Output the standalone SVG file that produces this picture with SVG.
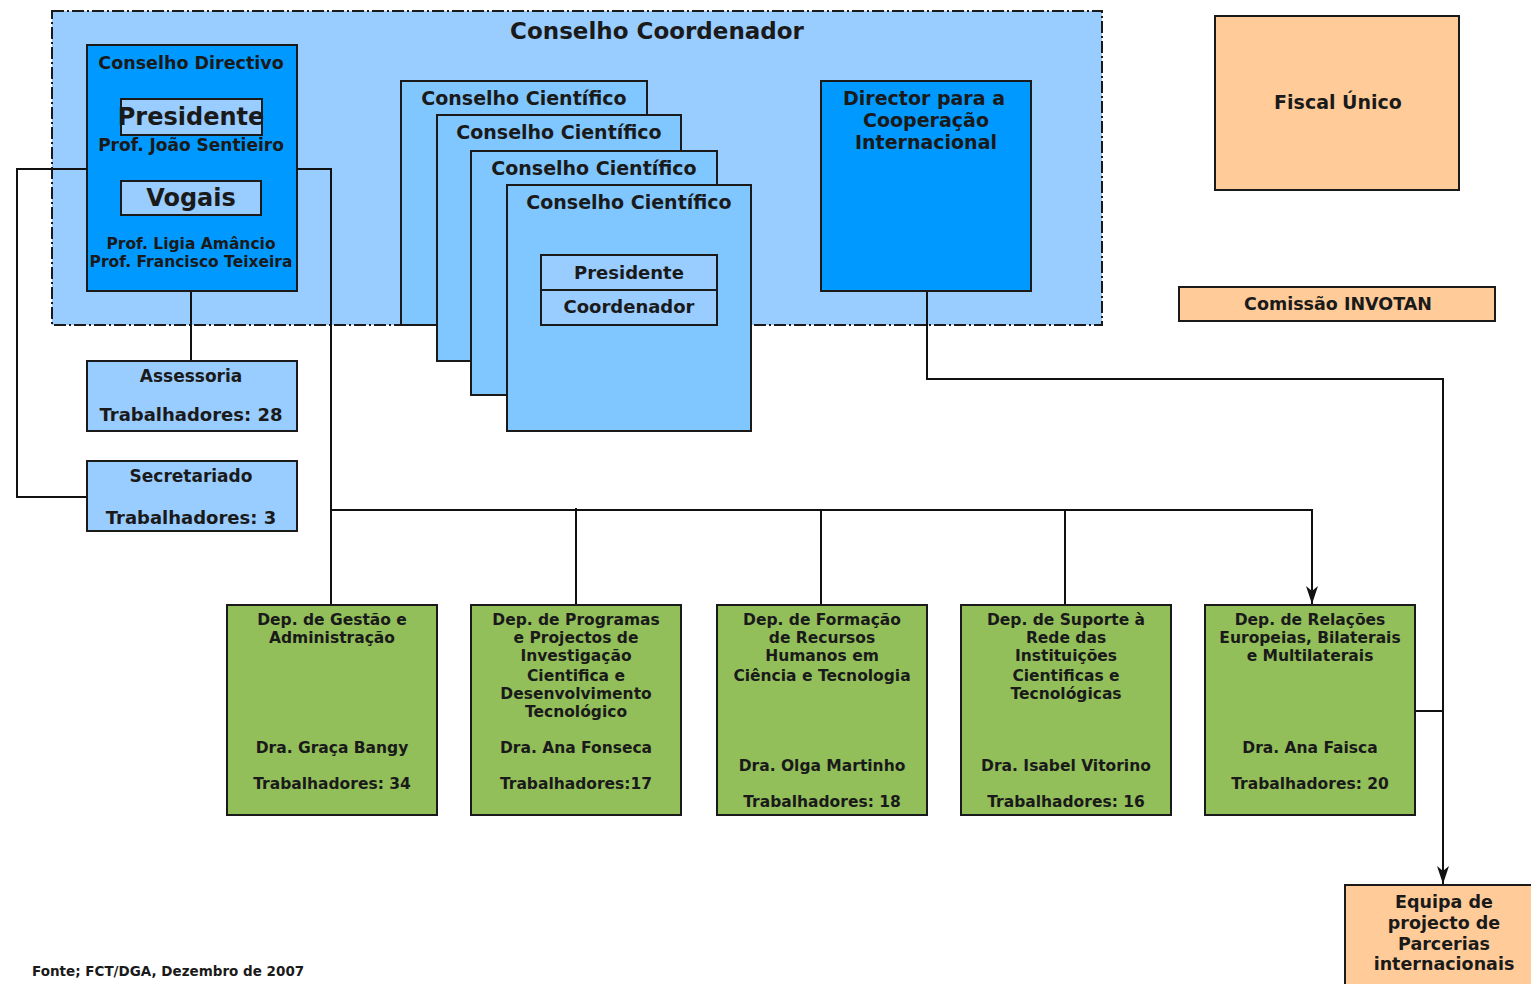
<svg xmlns="http://www.w3.org/2000/svg" width="1531" height="984" viewBox="0 0 1531 984">
<style>
text{font-family:"DejaVu Sans","Liberation Sans",sans-serif;font-weight:bold;fill:#1a1a1a;text-anchor:middle}
.box{stroke:#1a1a1a;stroke-width:2}
.lb{fill:#99ccff}
.cs{fill:#80c6ff}
.db{fill:#0099ff}
.gr{fill:#92bf5a}
.or{fill:#ffcc99}
.ln{fill:none;stroke:#111;stroke-width:2}
.t24{font-size:24px}
.t23{font-size:23px}
.t19{font-size:19px}
.t18{font-size:18px}
.t175{font-size:17.5px}
.t17{font-size:17px}
.t155{font-size:15.5px}
.dp{font-size:15.5px}
</style>
<defs>
<marker id="arr" markerWidth="18" markerHeight="12" refX="18" refY="6" orient="auto" markerUnits="userSpaceOnUse" viewBox="0 0 18 12">
<path d="M0,0 L18,6 L0,12 L5,6 Z" fill="#111"/>
</marker>
</defs>
<rect width="1531" height="984" fill="#fff"/>

<g id="conselho-coordenador">
<rect x="52" y="11" width="1050" height="314" fill="#99ccff" stroke="#1a1a1a" stroke-width="2" stroke-dasharray="12 3 2 3"/>
<text x="657" y="39" class="t23">Conselho Coordenador</text>
</g>

<g id="connectors">
<path class="ln" d="M87,169 H17 V497 H87"/>
<path class="ln" d="M297,169 H331 V605"/>
<path class="ln" d="M191,291 V361"/>
<path class="ln" d="M331,510 H1312 V604" marker-end="url(#arr)"/>
<path class="ln" d="M576,508 V605"/>
<path class="ln" d="M821,510 V605"/>
<path class="ln" d="M1065,510 V605"/>
<path class="ln" d="M927,291 V379 H1443 V884" marker-end="url(#arr)"/>
<path class="ln" d="M1415,711 H1443"/>
</g>

<g id="conselho-directivo">
<rect x="87" y="45" width="210" height="246" class="box db"/>
<text x="191" y="69" class="t175">Conselho Directivo</text>
<rect x="121" y="99" width="141" height="36" class="box lb"/>
<text x="191" y="125" class="t24">Presidente</text>
<text x="191" y="151" class="t17">Prof. João Sentieiro</text>
<rect x="121" y="181" width="140" height="34" class="box lb"/>
<text x="191" y="206" class="t24">Vogais</text>
<text x="191" y="249" class="t155">Prof. Ligia Amâncio</text>
<text x="191" y="267" class="t155">Prof. Francisco Teixeira</text>
</g>

<g id="assessoria">
<rect x="87" y="361" width="210" height="70" class="box lb"/>
<text x="191" y="382" class="t17">Assessoria</text>
<text x="191" y="421" class="t18">Trabalhadores: 28</text>
</g>

<g id="secretariado">
<rect x="87" y="461" width="210" height="70" class="box lb"/>
<text x="191" y="482" class="t17">Secretariado</text>
<text x="191" y="524" class="t18">Trabalhadores: 3</text>
</g>

<g id="conselho-cientifico-1">
<rect x="401" y="81" width="246" height="244" class="box cs"/>
<text x="524" y="105" class="t19">Conselho Científico</text>
</g>
<g id="conselho-cientifico-2">
<rect x="437" y="115" width="244" height="246" class="box cs"/>
<text x="559" y="139" class="t19">Conselho Científico</text>
</g>
<g id="conselho-cientifico-3">
<rect x="471" y="151" width="246" height="244" class="box cs"/>
<text x="594" y="175" class="t19">Conselho Científico</text>
</g>
<g id="conselho-cientifico-4">
<rect x="507" y="185" width="244" height="246" class="box cs"/>
<text x="629" y="209" class="t19">Conselho Científico</text>
<rect x="541" y="255" width="176" height="35" class="box lb"/>
<text x="629" y="279" class="t18">Presidente</text>
<rect x="541" y="290" width="176" height="35" class="box lb"/>
<text x="629" y="313" class="t18">Coordenador</text>
</g>

<g id="director">
<rect x="821" y="81" width="210" height="210" class="box db"/>
<text x="924" y="105" class="t19">Director para a</text>
<text x="926" y="127" class="t19">Cooperação</text>
<text x="926" y="149" class="t19">Internacional</text>
</g>

<g id="fiscal-unico">
<rect x="1215" y="16" width="244" height="174" class="box or"/>
<text x="1338" y="109" class="t19">Fiscal Único</text>
</g>

<g id="comissao-invotan">
<rect x="1179" y="287" width="316" height="34" class="box or"/>
<text x="1338" y="310" class="t175">Comissão INVOTAN</text>
</g>

<g id="dep-gestao">
<rect x="227" y="605" width="210" height="210" class="box gr"/>
<text x="332" y="625" class="dp">Dep. de Gestão e</text>
<text x="332" y="643" class="dp">Administração</text>
<text x="332" y="753" class="dp">Dra. Graça Bangy</text>
<text x="332" y="789" class="dp">Trabalhadores: 34</text>
</g>

<g id="dep-programas">
<rect x="471" y="605" width="210" height="210" class="box gr"/>
<text x="576" y="625" class="dp">Dep. de Programas</text>
<text x="576" y="643" class="dp">e Projectos de</text>
<text x="576" y="661" class="dp">Investigação</text>
<text x="576" y="681" class="dp">Cientifica e</text>
<text x="576" y="699" class="dp">Desenvolvimento</text>
<text x="576" y="717" class="dp">Tecnológico</text>
<text x="576" y="753" class="dp">Dra. Ana Fonseca</text>
<text x="576" y="789" class="dp">Trabalhadores:17</text>
</g>

<g id="dep-formacao">
<rect x="717" y="605" width="210" height="210" class="box gr"/>
<text x="822" y="625" class="dp">Dep. de Formação</text>
<text x="822" y="643" class="dp">de Recursos</text>
<text x="822" y="661" class="dp">Humanos em</text>
<text x="822" y="681" class="dp">Ciência e Tecnologia</text>
<text x="822" y="771" class="dp">Dra. Olga Martinho</text>
<text x="822" y="807" class="dp">Trabalhadores: 18</text>
</g>

<g id="dep-suporte">
<rect x="961" y="605" width="210" height="210" class="box gr"/>
<text x="1066" y="625" class="dp">Dep. de Suporte à</text>
<text x="1066" y="643" class="dp">Rede das</text>
<text x="1066" y="661" class="dp">Instituições</text>
<text x="1066" y="681" class="dp">Cientificas e</text>
<text x="1066" y="699" class="dp">Tecnológicas</text>
<text x="1066" y="771" class="dp">Dra. Isabel Vitorino</text>
<text x="1066" y="807" class="dp">Trabalhadores: 16</text>
</g>

<g id="dep-relacoes">
<rect x="1205" y="605" width="210" height="210" class="box gr"/>
<text x="1310" y="625" class="dp">Dep. de Relações</text>
<text x="1310" y="643" class="dp">Europeias, Bilaterais</text>
<text x="1310" y="661" class="dp">e Multilaterais</text>
<text x="1310" y="753" class="dp">Dra. Ana Faisca</text>
<text x="1310" y="789" class="dp">Trabalhadores: 20</text>
</g>

<g id="equipa">
<rect x="1345" y="885" width="195" height="110" class="box or"/>
<text x="1444" y="908" class="t175">Equipa de</text>
<text x="1444" y="929" class="t175">projecto de</text>
<text x="1444" y="950" class="t175">Parcerias</text>
<text x="1444" y="970" class="t175">internacionais</text>
</g>

<g id="fonte">
<text x="32" y="976" style="font-size:13.5px;text-anchor:start">Fonte; FCT/DGA, Dezembro de 2007</text>
</g>
</svg>
